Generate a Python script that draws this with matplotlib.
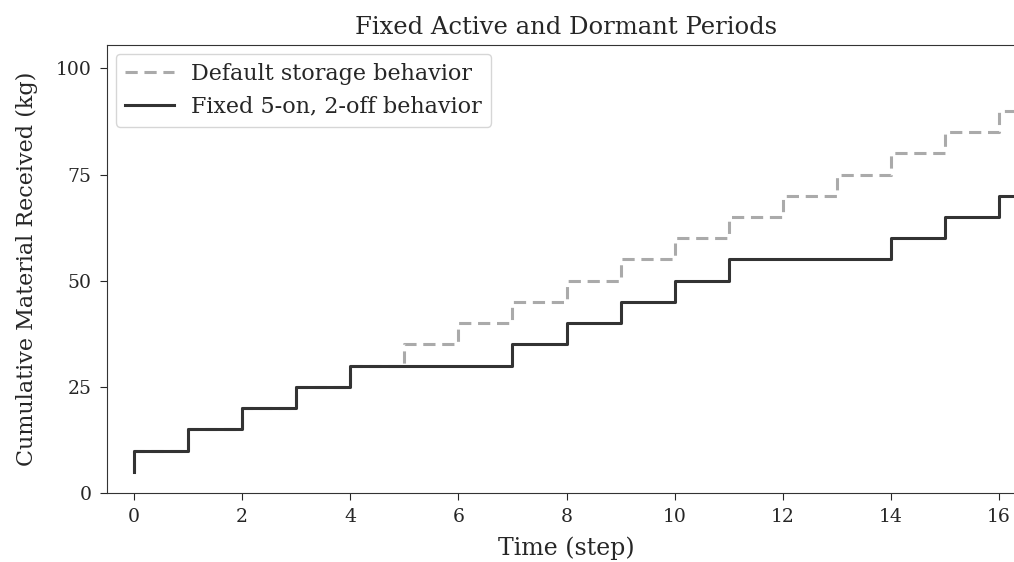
import matplotlib
matplotlib.use("Agg")
import matplotlib.pyplot as plt
import numpy as np

# Время (шаги) и накопленный материал
steps = np.arange(0, 18)
default_storage = [5, 10, 15, 20, 25, 30, 35, 40, 45, 50, 55, 60, 65, 70, 75, 80, 85, 90]
fixed_5on_2off = [5, 10, 15, 20, 25, 30, 30, 30, 35, 40, 45, 50, 55, 55, 55, 60, 65, 70]

plt.rcParams['font.family'] = 'DejaVu Serif'
plt.rcParams['text.color'] = '#262626'
plt.rcParams['axes.labelcolor'] = '#262626'
plt.rcParams['xtick.color'] = '#262626'
plt.rcParams['ytick.color'] = '#262626'

fig = plt.figure(figsize=(10.14, 5.62), dpi=100)
ax = fig.add_axes([107 / 1014, 69 / 562, 919 / 1014, 448 / 562])

ax.step(steps, default_storage, where='pre', color='#aaaaaa', linestyle='--',
        linewidth=2.2, dashes=(4, 2.2), label='Default storage behavior')
ax.step(steps, fixed_5on_2off, where='pre', color='#333333', linewidth=2.2,
        label='Fixed 5-on, 2-off behavior')

ax.set_xlim(-0.5, 16.5)
ax.set_ylim(0, 105.5)
ax.set_xticks(np.arange(0, 17, 2))
ax.set_yticks([0, 25, 50, 75, 100])
ax.tick_params(labelsize=13.5, length=5, pad=6)
for s in ax.spines.values():
    s.set_color('#333333')

ax.set_title('Fixed Active and Dormant Periods', fontsize=17.5, pad=8)
ax.set_xlabel('Time (step)', fontsize=17, labelpad=7)
ax.set_ylabel('Cumulative Material Received (kg)', fontsize=16, labelpad=13)
ax.legend(loc='upper left', fontsize=16, borderaxespad=0.4, handlelength=2.2)

fig.savefig('out.png', dpi=100)
